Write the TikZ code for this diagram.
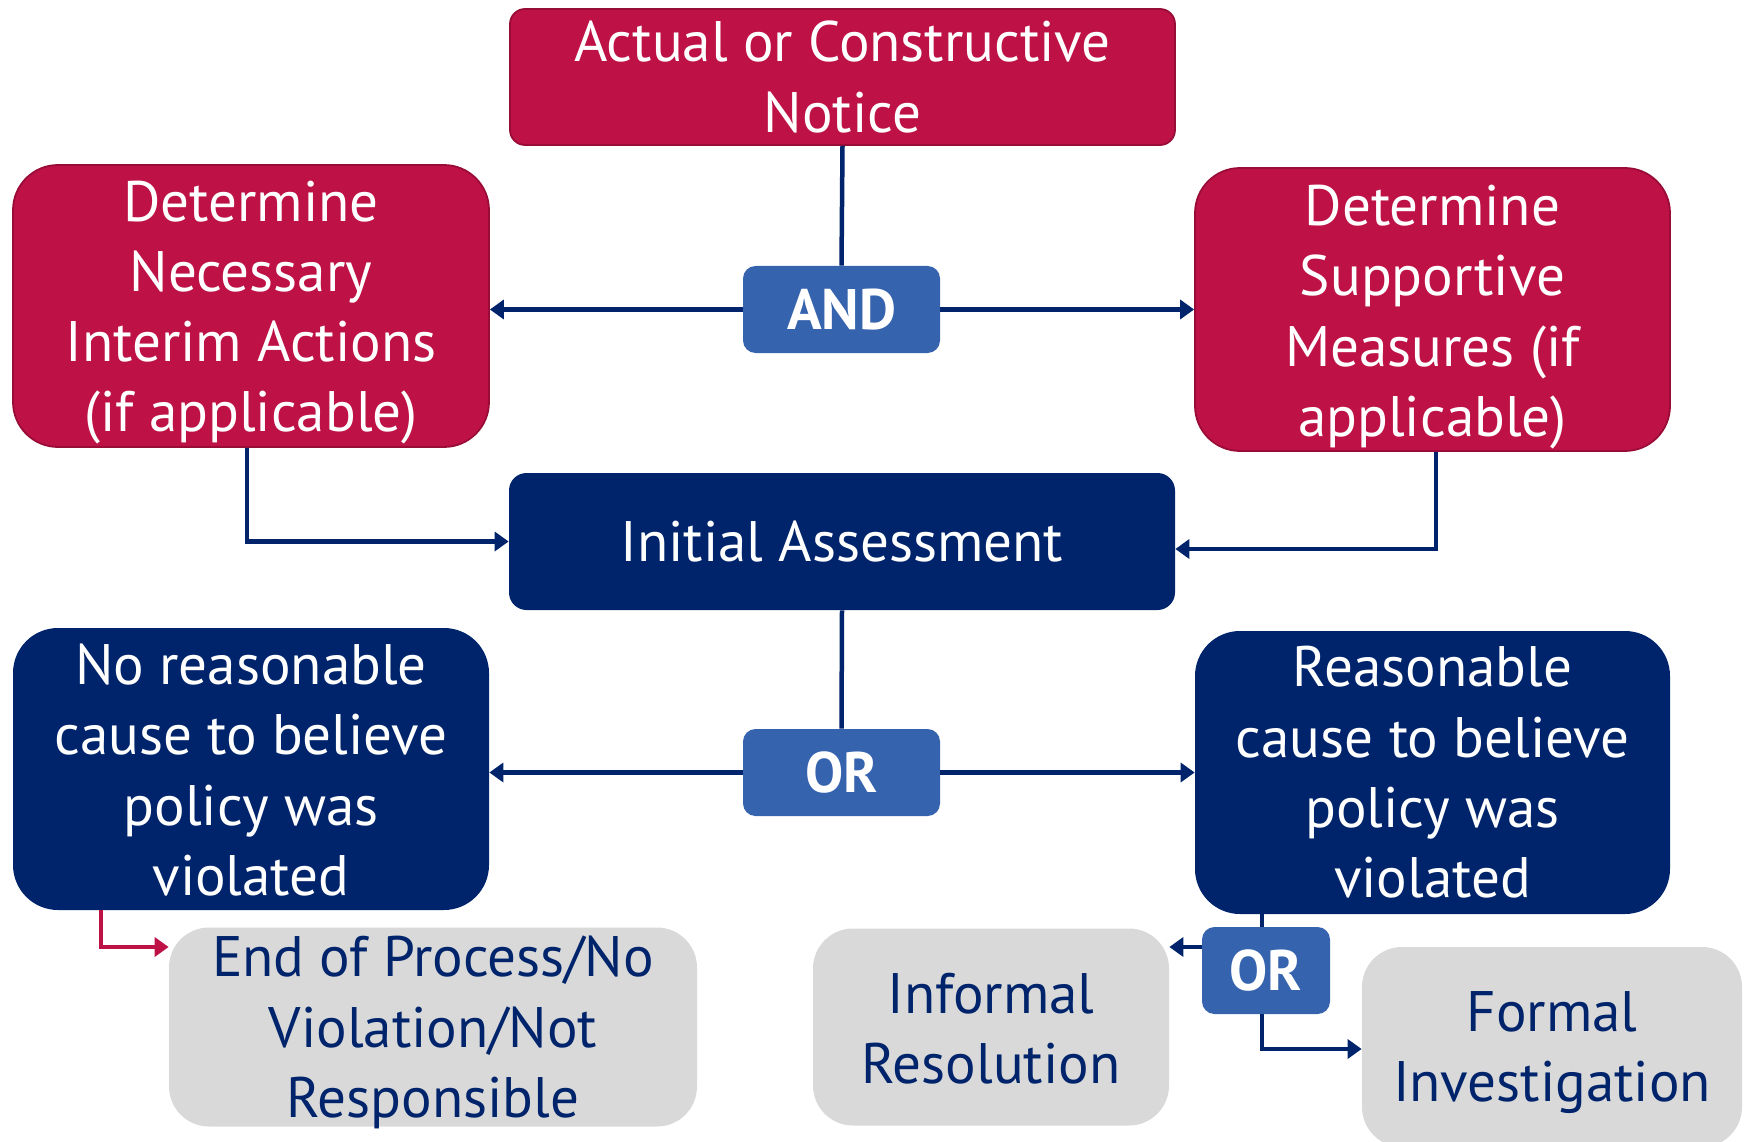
\documentclass[tikz,border=0pt]{standalone}
\usepackage{fontspec}
\setmainfont{PT Sans}
\usetikzlibrary{arrows.meta,calc}
\definecolor{crim}{HTML}{BE1145}
\definecolor{crimdark}{HTML}{9A0C38}
\definecolor{navy}{HTML}{00246B}
\definecolor{midblue}{HTML}{3563AE}
\definecolor{lgray}{HTML}{D9D9D9}
\begin{document}
\begin{tikzpicture}[x=0.02cm,y=-0.02cm,
  sz/.style 2 args={minimum width=#1*0.02cm, minimum height=#2*0.02cm},
  base/.style={rectangle, align=center, inner sep=0pt, font=\fontsize{32.5}{40}\selectfont},
  redbox/.style={base, fill=crim, draw=crimdark, line width=1pt, text=white},
  navybox/.style={base, fill=navy, text=white},
  graybox/.style={base, fill=lgray, text=navy},
  wtxt/.style={base, text=white},
  ntxt/.style={base, text=navy},
  gate/.style={base, fill=midblue, text=white, rounded corners=0.25cm, font=\fontsize{32.5}{40}\selectfont\bfseries},
  conn/.style={draw=navy, line width=0.09cm},
  arr/.style={conn, -{Triangle[length=0.28cm,width=0.38cm]}},
  redarr/.style={draw=crim, line width=0.09cm, -{Triangle[length=0.28cm,width=0.38cm]}}
]
\useasboundingbox (0,0) rectangle (1745,1142);

% boxes
\node[redbox, rounded corners=0.3cm, sz={665}{136}] (notice) at (842.5,77) {Actual or Constructive\\Notice};
\node[redbox, rounded corners=0.9cm, sz={476}{282}] (interim) at (251,306) {};
\node[wtxt] (interimt) at ($(interim.center)+(0,6.5)$) {Determine\\Necessary\\Interim Actions\\(if applicable)};
\node[redbox, rounded corners=0.9cm, sz={475}{283}] (support) at (1432.5,309.5) {};
\node[wtxt] (supportt) at ($(support.center)+(0,7.5)$) {Determine\\Supportive\\Measures (if\\applicable)};
\node[gate, sz={197}{87}] (and) at (841.5,309.5) {AND};
\node[navybox, rounded corners=0.35cm, sz={666}{137}] (ia) at (842,541.5) {Initial Assessment};
\node[navybox, rounded corners=0.9cm, sz={476}{282}] (nocause) at (251,769) {};
\node[wtxt] (nocauset) at ($(nocause.center)+(0,1)$) {No reasonable\\cause to believe\\policy was\\violated};
\node[navybox, rounded corners=0.9cm, sz={475}{283}] (cause) at (1432.5,772.5) {Reasonable\\cause to believe\\policy was\\violated};
\node[gate, sz={197}{87}] (or) at (841.5,772.5) {OR};
\node[graybox, rounded corners=0.8cm, sz={528}{199}] (end) at (433,1027) {};
\node[ntxt] (endt) at ($(end.center)+(0,5.5)$) {End of Process/No\\Violation/Not\\Responsible};
\node[graybox, rounded corners=0.8cm, sz={356}{197}] (informal) at (991,1027) {};
\node[ntxt] (informalt) at ($(informal.center)+(0,2)$) {Informal\\Resolution};
\node[graybox, rounded corners=0.8cm, sz={380}{200}] (formal) at (1552,1047) {};
\node[ntxt] (formalt) at ($(formal.center)+(0,5.5)$) {Formal\\Investigation};
\node[gate, sz={128}{87}] (or2) at (1266,970.5) {OR};

% connector bends
\coordinate (lx) at (247,0);
\coordinate (rx) at (1436,549);
\coordinate (c1) at (1262,947);
\coordinate (c2) at (101,947);
\coordinate (c3) at (1262,1049);

\draw[conn] (notice.south) -- (and.north);
\draw[arr] (and.west) -- (and.west -| interim.east);
\draw[arr] (and.east) -- (and.east -| support.west);
\draw[arr] (interim.south -| lx) |- (ia.west);
\draw[arr] (support.south -| rx) |- (rx -| ia.east);
\draw[conn] (ia.south) -- (or.north);
\draw[arr] (or.west) -- (or.west -| nocause.east);
\draw[arr] (or.east) -- (or.east -| cause.west);
\draw[redarr] (nocause.south -| c2) |- (c2 -| end.west);
\draw[conn] (cause.south -| c1) -- (c1 |- or2.north);
\draw[arr] (c1 -| or2.west) -- (c1 -| informal.east);
\draw[arr] (c1 |- or2.south) |- (c3 -| formal.west);
\end{tikzpicture}
\end{document}
